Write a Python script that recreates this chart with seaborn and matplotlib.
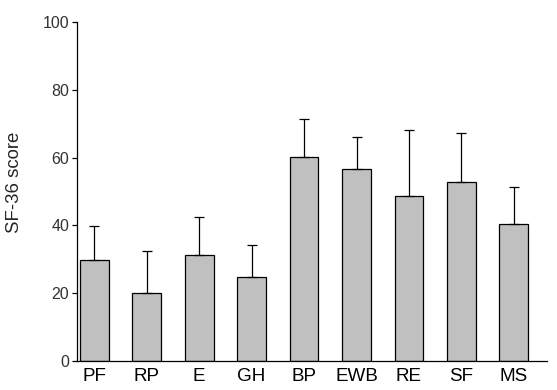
import numpy as np
import pandas as pd
import seaborn as sns
import matplotlib
matplotlib.use("Agg")
import matplotlib.pyplot as plt

# SF-36 domains, mean score and SD (upper whisker only)
domains = ["PF", "RP", "E", "GH", "BP", "EWB", "RE", "SF", "MS"]
means = [29.7, 20.0, 31.2, 24.7, 60.1, 56.5, 48.7, 52.7, 40.4]
sds = [10.1, 12.4, 11.2, 9.4, 11.2, 9.5, 19.4, 14.5, 10.8]
y_ticks = [0, 20, 40, 60, 80, 100]

df = pd.DataFrame({"domain": domains, "score": means})

sns.set_style("white")
plt.rcParams["font.family"] = ["Liberation Sans", "DejaVu Sans"]

fig = plt.figure(figsize=(5.57, 3.9), dpi=100)
ax = fig.add_axes([0.138, 0.074, 0.844, 0.870])

sns.barplot(data=df, x="domain", y="score", color="#c0c0c0", saturation=1,
            width=0.55, edgecolor="black", linewidth=0.9, errorbar=None, ax=ax)

# one-sided error bars (upward)
x = np.arange(len(domains))
ax.errorbar(x, means, yerr=[np.zeros(len(sds)), sds], fmt="none",
            ecolor="black", elinewidth=0.9, capsize=3.3, capthick=0.9, zorder=1)

ax.set_xlim(-0.33, len(domains) - 1 + 0.63)
ax.set_ylim(0, 100)
ax.set_yticks(y_ticks)
ax.set_xlabel("")
ax.set_ylabel("SF-36 score", fontsize=13.4)
ax.yaxis.set_label_coords(-0.115, 0.528)

for s in ["top", "right"]:
    ax.spines[s].set_visible(False)
for s in ["left", "bottom"]:
    ax.spines[s].set_color("black")
    ax.spines[s].set_linewidth(0.9)

ax.tick_params(axis="y", direction="out", length=3.6, width=0.9, color="black",
               labelsize=11.5, labelcolor="#333333", pad=2, left=True)
ax.tick_params(axis="x", length=0, labelsize=13.6, labelcolor="black", pad=5)

fig.savefig("out.png", dpi=100)
